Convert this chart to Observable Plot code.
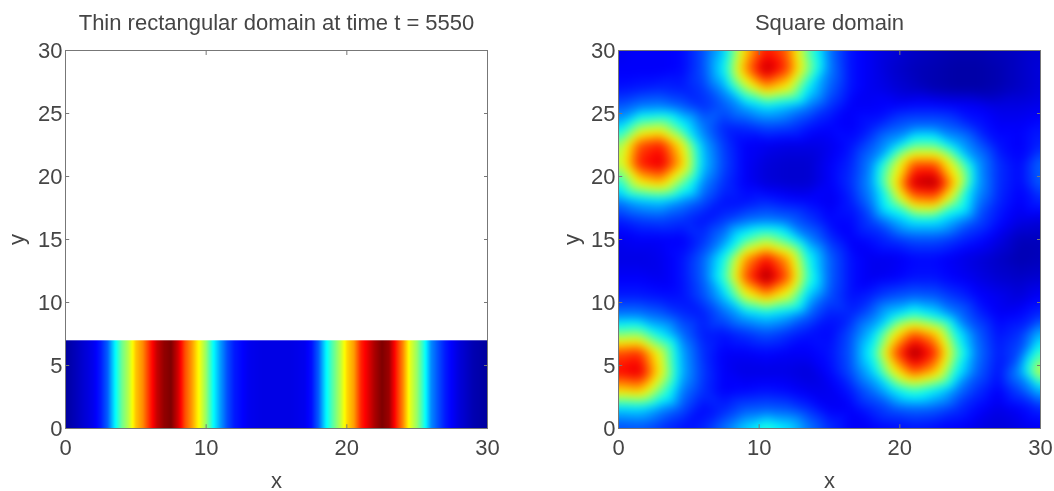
<!DOCTYPE html>
<html><head><meta charset="utf-8">
<script src="https://cdn.jsdelivr.net/npm/d3@7"></script>
<script src="https://cdn.jsdelivr.net/npm/@observablehq/plot@0.6"></script>
<style>
html,body{margin:0;padding:0;background:#fff;width:1054px;height:491px;overflow:hidden}
#wrap{display:flex;width:1054px;height:491px;filter:blur(0.55px)}
#wrap svg{display:block;flex:none;background:transparent}
</style></head><body><div id="wrap"></div>
<script>
const titleLeft = "Thin rectangular domain at time t = 5550";
const titleRight = "Square domain";
const xTicks = [0, 10, 20, 30];
const yTicks = [0, 5, 10, 15, 20, 25, 30];
const jetStops = [0, 0.125, 0.25, 0.375, 0.5, 0.625, 0.75, 0.875, 1];
const jetColors = ["#00007f","#0000ff","#007fff","#00ffff","#7fff7f","#ffff00","#ff7f00","#ff0000","#7f0000"];

const stripTop = 7;
const stripX = [0,1,2,2.5,3,3.5,4,4.5,5,5.5,6,6.5,7,7.5,8,8.5,9,9.5,10,10.5,11,11.5,12,13,14,15,16,17,17.5,18,18.5,19,19.5,20,20.5,21,21.5,22,22.5,23,23.5,24,24.5,25,25.5,26,26.5,27,28,29,30];
const stripV = [.03,.07,.11,.15,.22,.36,.48,.56,.68,.74,.84,.93,.98,1,.92,.8,.72,.62,.52,.38,.28,.2,.15,.11,.1,.1,.1,.11,.14,.22,.36,.46,.55,.66,.72,.84,.9,.96,1,.97,.85,.74,.6,.52,.4,.26,.2,.15,.09,.05,.03];

const squareX = [0,1.5,3,4.5,6,7.5,9,10.5,12,13.5,15,16.5,18,19.5,21,22.5,24,25.5,27,28.5,30];
const squareY = [30,28.5,27,25.5,24,22.5,21,19.5,18,16.5,15,13.5,12,10.5,9,7.5,6,4.5,3,1.5,0];
const squareRows = [
[11,12,12,13,20,32,66,85,77,46,24,14,11,9,7,6,5,5,6,7,8],
[12,12,12,13,20,37,73,95,81,51,25,14,11,8,6,5,4,4,5,7,9],
[14,15,16,15,18,28,53,71,62,36,22,14,11,9,7,5,4,4,5,7,9],
[21,25,26,22,17,21,28,34,30,24,17,12,12,13,14,14,13,12,10,10,11],
[32,51,55,39,24,16,17,20,19,15,13,12,15,20,23,23,20,15,12,12,14],
[51,80,85,63,30,18,12,11,10,10,11,14,21,30,46,46,31,22,14,12,16],
[55,85,91,69,32,19,12,9,8,8,12,16,26,53,79,79,55,28,17,13,23],
[39,63,69,48,26,17,12,9,8,8,12,17,28,60,93,96,66,29,17,13,22],
[24,30,32,26,20,14,14,16,14,13,11,15,25,46,71,73,48,25,16,12,16],
[15,18,19,17,14,18,23,25,23,18,13,13,19,28,36,36,28,20,14,10,9],
[11,12,12,12,17,26,43,53,43,26,17,12,14,17,20,20,17,14,10,6,6],
[10,10,11,14,22,39,72,86,72,39,22,14,11,11,13,13,11,9,7,5,6],
[12,12,11,14,22,43,79,98,79,43,22,14,11,12,14,14,12,10,8,7,8],
[15,15,14,14,20,32,59,71,59,32,20,14,16,20,22,21,17,13,11,9,12],
[25,25,22,17,15,22,30,34,30,22,15,16,23,34,43,36,25,17,12,13,17],
[49,51,36,23,15,14,17,20,17,14,13,20,32,60,79,69,39,22,14,17,31],
[80,83,59,29,17,12,12,13,12,12,14,21,39,76,98,83,48,24,15,20,45],
[87,91,63,30,18,12,10,10,10,9,13,20,32,60,79,69,39,22,14,27,60],
[66,69,48,25,17,12,13,14,13,11,11,15,23,34,43,36,25,17,12,19,31],
[32,33,26,20,13,16,21,22,21,17,12,12,16,20,22,21,17,13,10,12,16],
[19,20,17,14,16,24,34,43,36,25,17,12,12,13,14,13,12,10,9,10,11]
];

const stripPoints = stripX.flatMap((x, i) => [{x, y: 0, v: stripV[i]}, {x, y: stripTop, v: stripV[i]}]);
const squarePoints = squareRows.flatMap((row, j) => row.map((v, i) => ({x: squareX[i], y: squareY[j], v: v / 100})));

const textColor = "#454545", lineColor = "#777";
function panel(opts) {
  return Plot.plot({
    width: 527, height: 491,
    marginLeft: opts.left, marginRight: 527 - opts.left - 422, marginTop: 50, marginBottom: 63,
    style: {fontFamily: "'Liberation Sans', Arial, sans-serif", background: "transparent", overflow: "visible"},
    x: {domain: [0, 30], ticks: xTicks},
    y: {domain: [0, 30], ticks: yTicks},
    color: {type: "linear", domain: jetStops, range: jetColors, interpolate: "rgb"},
    marks: [
      opts.raster,
      Plot.frame({stroke: lineColor, strokeWidth: 1}),
      Plot.axisX({anchor: "top", ticks: xTicks, tickSize: -4, stroke: lineColor, fill: "none", label: null, tickFormat: () => ""}),
      Plot.axisY({anchor: "right", ticks: yTicks, tickSize: -4, stroke: lineColor, fill: "none", label: null, tickFormat: () => ""}),
      Plot.axisX({ticks: xTicks, tickSize: 0, tickPadding: 11, fontSize: 22, fill: textColor, label: "x", labelArrow: "none", labelAnchor: "center", labelOffset: 59}),
      Plot.axisY({ticks: yTicks, tickSize: 0, tickPadding: 3, fontSize: 22, fill: textColor, label: "y", labelArrow: "none", labelAnchor: "center", labelOffset: opts.yOffset}),
      Plot.ruleX(xTicks, {y1: 0, y2: 0.3, stroke: lineColor}),
      Plot.ruleY(yTicks, {x1: 0, x2: 0.3, stroke: lineColor}),
      Plot.text([opts.title], {frameAnchor: "top", dy: -36, fontSize: 22, fill: textColor})
    ]
  });
}

const left = panel({
  left: 65, yOffset: 57, title: titleLeft,
  raster: Plot.raster(stripPoints, {x: "x", y: "y", fill: "v", x1: 0, x2: 30, y1: 0, y2: stripTop, interpolate: "barycentric", pixelSize: 1})
});
const right = panel({
  left: 91, yOffset: 55, title: titleRight,
  raster: Plot.raster(squarePoints, {x: "x", y: "y", fill: "v", x1: 0, x2: 30, y1: 0, y2: 30, interpolate: "barycentric", pixelSize: 1, blur: 4})
});
document.getElementById("wrap").append(left, right);
</script></body></html>
